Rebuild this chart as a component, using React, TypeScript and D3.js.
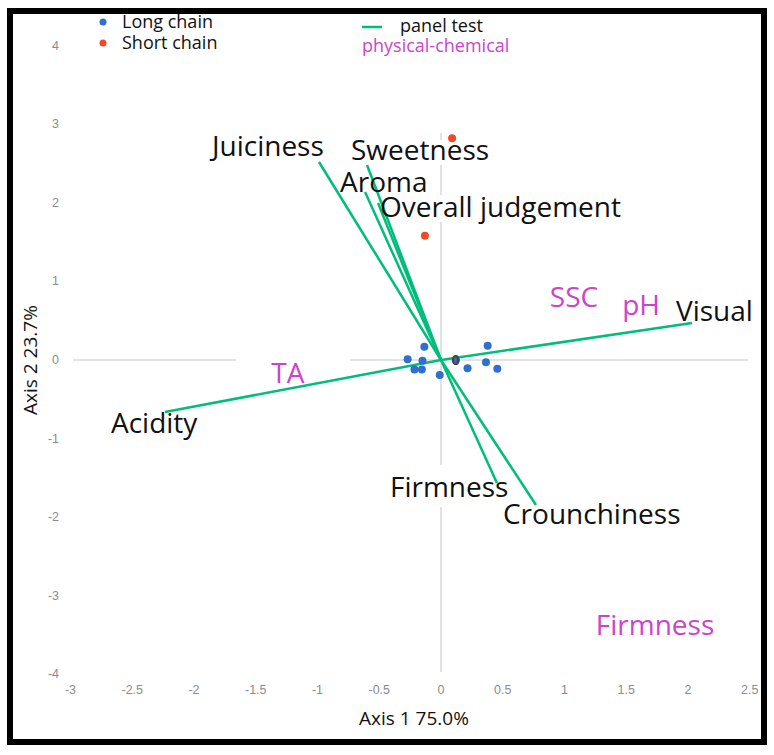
import React from "react";
import * as d3 from "d3";

const xTicks = [-3, -2.5, -2, -1.5, -1, -0.5, 0, 0.5, 1, 1.5, 2, 2.5];
const yTicks = [4, 3, 2, 1, 0, -1, -2, -3, -4];

const longChainX = [-0.27, -0.135, -0.15, -0.215, -0.155, -0.01, 0.12, 0.215, 0.378, 0.364, 0.456];
const longChainY = [0.01, 0.17, -0.01, -0.12, -0.12, -0.19, 0.0, -0.106, 0.18, -0.03, -0.11];

const shortChainX = [0.09, -0.13];
const shortChainY = [2.82, 1.58];

const panelNames = ["Juiciness", "Sweetness", "Aroma", "Overall judgement", "Visual", "Acidity", "Firmness", "Crounchiness"];
const panelX = [-0.988, -0.599, -0.615, -0.51, 2.032, -2.235, 0.453, 0.769];
const panelY = [2.519, 2.481, 2.137, 1.997, 0.471, -0.662, -1.565, -1.845];

const physNames = ["SSC", "pH", "TA", "Firmness"];
const physX = [1.077, 1.62, -1.24, 1.733];
const physY = [0.8, 0.7, -0.165, -3.37];

// layout (pixel offsets of labels relative to vector tips)
const panelLabelOffset: [number, number][] = [
  [-107, -6], [-16, -5], [-25, 0], [2, 14], [-16, -2], [-54, 21], [-107, 14], [-33, 19],
];

// visible grid segments (data units)
const vGridSegs: [number, number][] = [[2.888, 2.8], [2.48, 2.1], [1.756, -1.336], [-1.87, -3.97]];
const hGridSegs: [number, number][] = [[-2.98, -1.66], [-0.737, 2.486]];

const GREEN = "#00bd7a";
const PINK = "#cc44cc";
const BLUE = "#2f6fcf";
const RED = "#f04a24";

export default function App() {
  const W = 774, H = 755;
  const x = d3.scaleLinear().domain([-3, 2.5]).range([70.5, 749.75]);
  const y = d3.scaleLinear().domain([-4, 4]).range([674.4, 45.6]);
  const font = "'Open Sans', sans-serif";
  const tickFont = "'Liberation Sans', Arial, sans-serif";

  return (
    <svg width={W} height={H} style={{ position: "absolute", left: 0, top: 0, background: "#fff" }}>
      <rect x={0} y={0} width={W} height={H} fill="#fff" />
      {/* border */}
      <rect x={10} y={11} width={754} height={731} fill="none" stroke="#000" strokeWidth={6} />

      {/* grid lines */}
      {vGridSegs.map((s, i) => (
        <line key={"v" + i} x1={x(0)} x2={x(0)} y1={y(s[0])} y2={y(s[1])} stroke="#d9d9d9" strokeWidth={1.5} />
      ))}
      {hGridSegs.map((s, i) => (
        <line key={"h" + i} x1={x(s[0])} x2={x(s[1])} y1={y(0)} y2={y(0)} stroke="#d9d9d9" strokeWidth={1.5} />
      ))}

      {/* tick labels */}
      {yTicks.map((t) => (
        <text key={"yt" + t} x={59} y={y(t) + 4} textAnchor="end" fontFamily={tickFont} fontSize={12.5} fill="#8c8c8c">
          {String(t)}
        </text>
      ))}
      {xTicks.map((t) => (
        <text key={"xt" + t} x={x(t)} y={694} textAnchor="middle" fontFamily={tickFont} fontSize={12.5} fill="#8c8c8c">
          {String(t)}
        </text>
      ))}

      {/* axis titles */}
      <text x={414} y={725} textAnchor="middle" fontFamily={font} fontSize={19} fill="#111">
        Axis 1 75.0%
      </text>
      <text transform={`translate(37, ${y(0)}) rotate(-90)`} textAnchor="middle" fontFamily={font} fontSize={19} fill="#111">
        Axis 2 23.7%
      </text>

      {/* panel test vectors */}
      {panelNames.map((n, i) => (
        <line key={"pl" + n} x1={x(0)} y1={y(0)} x2={x(panelX[i])} y2={y(panelY[i])} stroke={GREEN} strokeWidth={2.5} />
      ))}

      {/* long chain */}
      {longChainX.map((v, i) => (
        <circle key={"lc" + i} cx={x(v)} cy={y(longChainY[i])} r={4} fill={BLUE} />
      ))}
      <text x={x(0.12)} y={y(0) + 5} textAnchor="middle" fontFamily={font} fontSize={14} fontWeight={700} fill="#444">0</text>

      {/* short chain */}
      {shortChainX.map((v, i) => (
        <circle key={"sc" + i} cx={x(v)} cy={y(shortChainY[i])} r={4} fill={RED} />
      ))}

      {/* panel labels */}
      {panelNames.map((n, i) => (
        <text key={"plab" + n} x={x(panelX[i]) + panelLabelOffset[i][0]} y={y(panelY[i]) + panelLabelOffset[i][1]}
          fontFamily={font} fontSize={28} fill="#111">
          {n}
        </text>
      ))}

      {/* physical-chemical labels */}
      {physNames.map((n, i) => (
        <text key={"ph" + n} x={x(physX[i])} y={y(physY[i]) + 10} textAnchor="middle" fontFamily={font} fontSize={28} fill={PINK}>
          {n}
        </text>
      ))}

      {/* legend */}
      <circle cx={103} cy={22} r={3.5} fill={BLUE} />
      <text x={122} y={28} fontFamily={font} fontSize={18} fill="#111">Long chain</text>
      <circle cx={103} cy={43} r={3.5} fill={RED} />
      <text x={122} y={49} fontFamily={font} fontSize={18} fill="#111">Short chain</text>
      <line x1={362} x2={382} y1={27} y2={27} stroke={GREEN} strokeWidth={2.5} />
      <text x={400} y={32} fontFamily={font} fontSize={18} fill="#111">panel test</text>
      <text x={362} y={52} fontFamily={font} fontSize={18} fill={PINK}>physical-chemical</text>
    </svg>
  );
}
